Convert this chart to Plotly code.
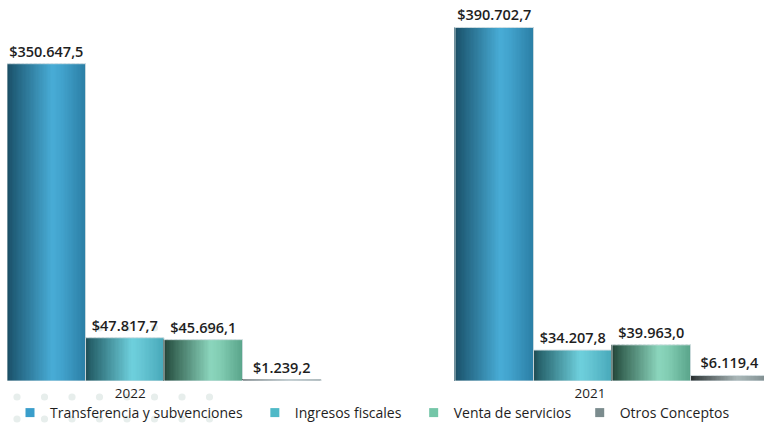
import plotly.graph_objects as go

# ---- data ----
years = ["2022", "2021"]
series = ["Transferencia y subvenciones", "Ingresos fiscales", "Venta de servicios", "Otros Conceptos"]
transferencia = [350647.5, 390702.7]
ingresos = [47817.7, 34207.8]
venta = [45696.1, 39963.0]
otros = [1239.2, 6119.4]
labels_transferencia = ["$350.647,5", "$390.702,7"]
labels_ingresos = ["$47.817,7", "$34.207,8"]
labels_venta = ["$45.696,1", "$39.963,0"]
labels_otros = ["$1.239,2", "$6.119,4"]

values = [transferencia, ingresos, venta, otros]
labels = [labels_transferencia, labels_ingresos, labels_venta, labels_otros]

# ---- style ----
legend_colors = ["#3a9ecb", "#4fb9c7", "#74c6a8", "#7b8c8e"]
legend_pad = ["\u00a0\u00a0", "\u00a0\u00a0", "\u00a0", ""]
gradients = [
    [(0.0, "#1b4b60"), (0.08, "#1f5c77"), (0.58, "#48acd6"), (0.7, "#42a3cd"), (1.0, "#2b7fa6")],
    [(0.0, "#1f4a52"), (0.08, "#27636c"), (0.6, "#6ed0dd"), (0.72, "#66c6d4"), (1.0, "#48a9ba")],
    [(0.0, "#223f35"), (0.08, "#2f5a4b"), (0.6, "#8bd6bd"), (0.72, "#82cdb3"), (1.0, "#5aa58b")],
    [(0.0, "#262a2b"), (0.08, "#3a4243"), (0.6, "#aab7b8"), (0.72, "#9eacad"), (1.0, "#7c8a8c")],
]
N_SLICES = 60
GROUP_STEP = 5.707
TICK_OFFSETS = [1.57, 1.72]
FONT = "Open Sans"


def hex2rgb(h):
    h = h.lstrip("#")
    return tuple(int(h[i:i + 2], 16) for i in (0, 2, 4))


def interp(stops, t):
    for (p0, c0), (p1, c1) in zip(stops[:-1], stops[1:]):
        if p0 <= t <= p1:
            f = (t - p0) / (p1 - p0) if p1 > p0 else 0
            a, b = hex2rgb(c0), hex2rgb(c1)
            return "rgb(%d,%d,%d)" % tuple(round(a[i] + (b[i] - a[i]) * f) for i in range(3))
    return stops[-1][1]


fig = go.Figure()

group_starts = [g * GROUP_STEP for g in range(len(years))]

for s, name in enumerate(series):
    # gradient slices: one trace per series, many thin bars
    xs, ys, cs = [], [], []
    for gi, gs in enumerate(group_starts):
        for k in range(N_SLICES):
            t = (k + 0.5) / N_SLICES
            xs.append(gs + s + t)
            ys.append(values[s][gi])
            cs.append(interp(gradients[s], t))
    fig.add_trace(go.Bar(
        x=xs, y=ys, width=1.15 / N_SLICES,
        marker=dict(color=cs, line=dict(width=0)),
        showlegend=False, hoverinfo="skip",
    ))
    # outline + value labels
    xc = [gs + s + 0.5 for gs in group_starts]
    fig.add_trace(go.Bar(
        x=xc, y=values[s], width=1.0,
        marker=dict(color="rgba(0,0,0,0)", line=dict(width=1, color="rgba(215,225,228,0.9)")),
        text=labels[s], textposition="outside", cliponaxis=False,
        textfont=dict(family=FONT, size=14.5, color="#1e1e1e", weight=600),
        showlegend=False, name=name,
    ))
    # legend entry
    fig.add_trace(go.Scatter(
        x=[None], y=[None], name=name + legend_pad[s], mode="markers",
        marker=dict(color=legend_colors[s], symbol="square", size=9),
        showlegend=True,
    ))

# decorative dot grid (pixel-based, drawn below)
W, H = 764, 424
ml, mr, mt, mb = 7, 0, 10, 43
pw, ph = W - ml - mr, H - mt - mb
shapes = []
for ypx in [328, 362, 397, 419]:
    for i in range(8):
        xpx = 17 + 27.5 * i
        r = 3.6
        shapes.append(dict(
            type="circle", xref="paper", yref="paper", layer="below",
            x0=(xpx - r - ml) / pw, x1=(xpx + r - ml) / pw,
            y0=(H - mb - (ypx + r)) / ph, y1=(H - mb - (ypx - r)) / ph,
            fillcolor="#e7eeec", line=dict(width=0),
        ))

fig.update_layout(
    width=W, height=H,
    margin=dict(l=ml, r=mr, t=mt, b=mb),
    barmode="overlay",
    plot_bgcolor="rgba(0,0,0,0)", paper_bgcolor="white",
    font=dict(family=FONT, color="#1e1e1e"),
    shapes=shapes,
    xaxis=dict(
        range=[0, pw / 78.5],
        tickvals=[gs + off for gs, off in zip(group_starts, TICK_OFFSETS)],
        ticktext=years,
        tickfont=dict(family=FONT, size=13.5, color="#1e1e1e", weight=500),
        ticklabelstandoff=2,
        showgrid=False, zeroline=False, showline=False, ticks="",
        automargin=False,
    ),
    yaxis=dict(range=[0, 410000], visible=False, showgrid=False, automargin=False),
    legend=dict(
        orientation="h", xref="container", yref="container",
        x=10 / W, xanchor="left",
        y=(H - 413) / H, yanchor="middle",
        font=dict(family=FONT, size=14, color="#1e1e1e", weight=500),
        itemwidth=30, bgcolor="rgba(0,0,0,0)",
        traceorder="normal",
    ),
    showlegend=True,
)

fig.write_html("out.html", config={"displayModeBar": False},
               post_script="document.body.style.margin='0';")
